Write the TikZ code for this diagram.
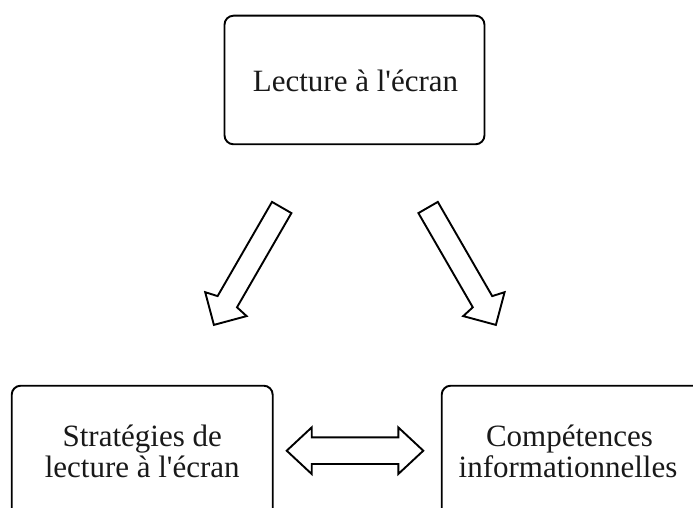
\documentclass[tikz,border=0pt]{standalone}
\usepackage{fontspec}
\setmainfont{Liberation Serif}[Ligatures=TeXOff]
\begin{document}
\begin{tikzpicture}[x=1bp,y=-1bp,
  box/.style={draw=black,line width=1.9bp,rounded corners=9bp,fill=white},
  label/.style={anchor=base,inner sep=0pt,font=\fontsize{31bp}{31bp}\selectfont,text=black!90},
  blockarrow/.style={draw=black,line width=1.9bp,fill=white,line join=miter}]
\useasboundingbox (0,0) rectangle (693,508);
\clip (0,0) rectangle (693,508);
% boxes
\draw[box] (224.5,15.7) rectangle (484.5,144.3);
\draw[box] (11.7,385.7) rectangle (272.7,530);
\draw[box] (441.7,385.7) rectangle (702,530);
% texts
\node[label] (t1) at (355.5,92) {Lecture à l'écran};
\node[label] (l1) at (142.2,446) {Stratégies de};
\node[label] (l2) at (142.2,477) {lecture à l'écran};
\node[label] (r1) at (569.5,446) {Compétences};
\node[label] (r2) at (568,477) {informationnelles};
% block arrows
\draw[blockarrow] (291.4,213.1) -- (237.0,307.3) -- (246.6,316.1) -- (213.9,324.9)
  -- (205.2,292.2) -- (217.6,296.1) -- (272.0,201.9) -- cycle;
\draw[blockarrow] (418.4,213.1) -- (472.8,307.3) -- (463.2,316.1) -- (495.9,324.9)
  -- (504.6,292.2) -- (492.2,296.1) -- (437.8,201.9) -- cycle;
\draw[blockarrow] (286.7,450.7) -- (311.7,427.4) -- (311.7,437.4) -- (398.3,437.4)
  -- (398.3,427.4) -- (423.3,450.7) -- (398.3,474) -- (398.3,464) -- (311.7,464)
  -- (311.7,474) -- cycle;
\end{tikzpicture}
\end{document}
